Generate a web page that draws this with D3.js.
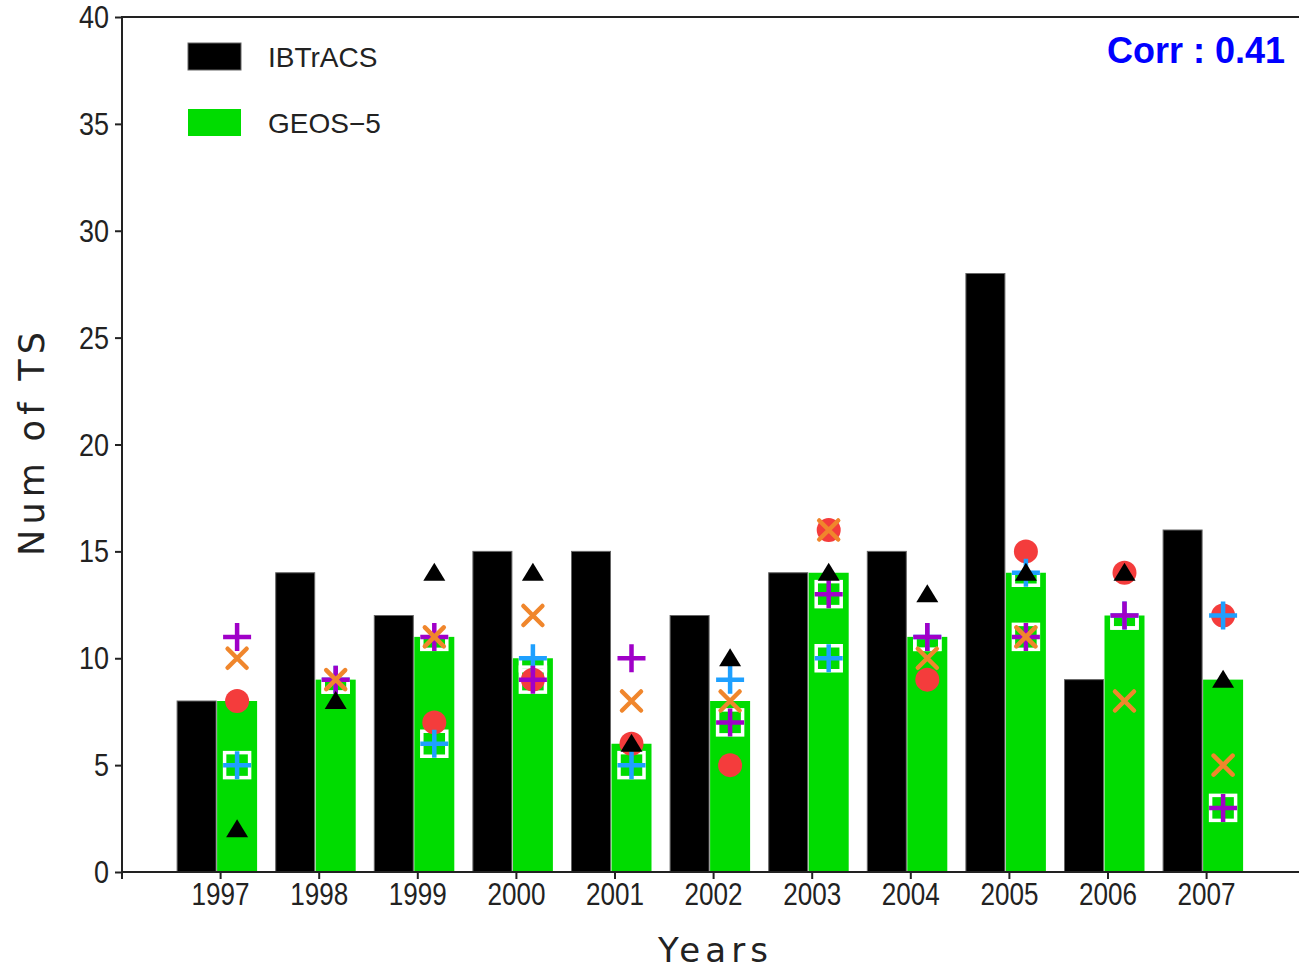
<!DOCTYPE html>
<html><head><meta charset="utf-8">
<script src="https://cdn.jsdelivr.net/npm/d3@7"></script>
<style>html,body{margin:0;padding:0;background:#fff;}svg{display:block;}</style>
</head><body>
<svg id="chart" width="1299" height="970"></svg>
<script>
const years = [1997,1998,1999,2000,2001,2002,2003,2004,2005,2006,2007];
const ibtracs = [8,14,12,15,15,12,14,15,28,9,16];
const geos5   = [8,9,11,10,6,8,14,11,14,12,9];
// individual marker series
const redCircle     = [8,null,7,9,6,5,16,9,15,14,12];
const blueCross     = [5,9,6,10,5,9,10,11,14,12,12];
const purpleCross   = [11,9,11,9,10,7,13,11,11,12,3];
const orangeX       = [10,9,11,12,8,8,16,10,11,8,5];
const blackTriangle = [2,8,14,14,6,10,14,13,14,14,9];
const yTicks = [0,5,10,15,20,25,30,35,40];
const legendLabels = ["IBTrACS","GEOS\u22125"];
const corrText = "Corr : 0.41";

const svg = d3.select("#chart");
const x = d3.scaleLinear().domain([1996,2008]).range([121.5,1304.7]);
const y = d3.scaleLinear().domain([0,40]).range([872,17]);
const axisColor = "#222";
const digitFont = "Liberation Sans, Arial, sans-serif";

// bars
svg.append("g").selectAll("rect").data(years).join("rect")
  .attr("x", d => x(d) - 43).attr("width", 39)
  .attr("y", (d,i) => y(ibtracs[i])).attr("height", (d,i) => y(0) - y(ibtracs[i]))
  .attr("fill", "#000").attr("stroke", "#666").attr("stroke-width", 1);
svg.append("g").selectAll("rect").data(years).join("rect")
  .attr("x", d => x(d) - 3).attr("width", 40)
  .attr("y", (d,i) => y(geos5[i])).attr("height", (d,i) => y(0) - y(geos5[i]))
  .attr("fill", "#00dc00");

const mx = d => x(d) + 17;
const pts = arr => years.map((d,i) => ({year:d, v:arr[i]})).filter(p => p.v !== null);

// white squares behind cross markers
const sqGroup = svg.append("g");
[blueCross, purpleCross].forEach(arr => {
  sqGroup.selectAll(null).data(pts(arr)).join("rect")
    .attr("x", p => mx(p.year) - 12.5).attr("y", p => y(p.v) - 12.5)
    .attr("width", 25).attr("height", 25)
    .attr("fill", "none").attr("stroke", "#fff").attr("stroke-width", 3.5);
});
// red circles
svg.append("g").selectAll("circle").data(pts(redCircle)).join("circle")
  .attr("cx", p => mx(p.year)).attr("cy", p => y(p.v)).attr("r", 12)
  .attr("fill", "#f43c3c");
// crosses
function drawPlus(arr, color) {
  svg.append("g").selectAll("path").data(pts(arr)).join("path")
    .attr("d", p => { const cx = mx(p.year), cy = y(p.v);
      return `M${cx-14},${cy}H${cx+14}M${cx},${cy-14}V${cy+14}`; })
    .attr("stroke", color).attr("stroke-width", 4.5).attr("fill", "none");
}
drawPlus(blueCross, "#1ea0ff");
drawPlus(purpleCross, "#a000c8");
// orange x
svg.append("g").selectAll("path").data(pts(orangeX)).join("path")
  .attr("d", p => { const cx = mx(p.year), cy = y(p.v), s = 9.5;
    return `M${cx-s},${cy-s}L${cx+s},${cy+s}M${cx-s},${cy+s}L${cx+s},${cy-s}`; })
  .attr("stroke", "#f0862c").attr("stroke-width", 4.5).attr("stroke-linecap", "round").attr("fill", "none");
// triangles
svg.append("g").selectAll("path").data(pts(blackTriangle)).join("path")
  .attr("d", p => { const cx = mx(p.year), cy = y(p.v);
    return `M${cx},${cy-10}L${cx+11},${cy+8}L${cx-11},${cy+8}Z`; })
  .attr("fill", "#000");

// axes frame
svg.append("path").attr("d", `M1299,17H122V872H1299`)
  .attr("fill","none").attr("stroke",axisColor).attr("stroke-width",2);
const yAxis = d3.axisLeft(y).tickValues(yTicks).tickSize(7).tickPadding(6);
const gy = svg.append("g").attr("transform","translate(122,0)").call(yAxis);
gy.select(".domain").remove();
gy.selectAll(".tick line").attr("stroke",axisColor).attr("stroke-width",2);
gy.selectAll(".tick text").attr("font-family",digitFont).attr("font-size",31)
  .attr("fill","#222").attr("dy","0.34em")
  .attr("textLength", d => String(d).length * 15).attr("lengthAdjust","spacingAndGlyphs");

const xAxis = d3.axisBottom(x).tickValues(years).tickSize(7).tickPadding(4).tickFormat(d3.format("d"));
const gx = svg.append("g").attr("transform","translate(0,872)").call(xAxis);
gx.select(".domain").remove();
gx.selectAll(".tick line").attr("stroke",axisColor).attr("stroke-width",2);
gx.selectAll(".tick text").attr("font-family",digitFont).attr("font-size",31)
  .attr("fill","#222").attr("textLength",58).attr("lengthAdjust","spacingAndGlyphs");
svg.append("line").attr("x1",122).attr("x2",122).attr("y1",872).attr("y2",879)
  .attr("stroke",axisColor).attr("stroke-width",2);

// axis titles
svg.append("text").attr("x",713).attr("y",962).attr("text-anchor","middle")
  .attr("font-family","DejaVu Sans, sans-serif").attr("font-size",34)
  .attr("textLength",110).attr("lengthAdjust","spacing").attr("fill","#222").text("Years");
svg.append("text").attr("transform","translate(44,444) rotate(-90)").attr("text-anchor","middle")
  .attr("font-family","DejaVu Sans, sans-serif").attr("font-size",35)
  .attr("textLength",224).attr("lengthAdjust","spacing").attr("fill","#222").text("Num of TS");

// legend
const legColors = ["#000","#00dc00"];
const leg = svg.append("g");
legendLabels.forEach((lab,i) => {
  leg.append("rect").attr("x",188).attr("y",43 + i*66).attr("width",53).attr("height",27)
    .attr("fill",legColors[i]).attr("stroke", i===0 ? "#666" : "none");
  leg.append("text").attr("x",268).attr("y",67 + i*66)
    .attr("font-family","Liberation Sans, Arial, sans-serif").attr("font-size",28)
    .attr("fill","#222").text(lab);
});

// correlation
svg.append("text").attr("x",1285).attr("y",63).attr("text-anchor","end")
  .attr("font-family","Liberation Sans, Arial, sans-serif").attr("font-weight","bold")
  .attr("font-size",36).attr("fill","#0000ff").text(corrText);
</script>
</body></html>
